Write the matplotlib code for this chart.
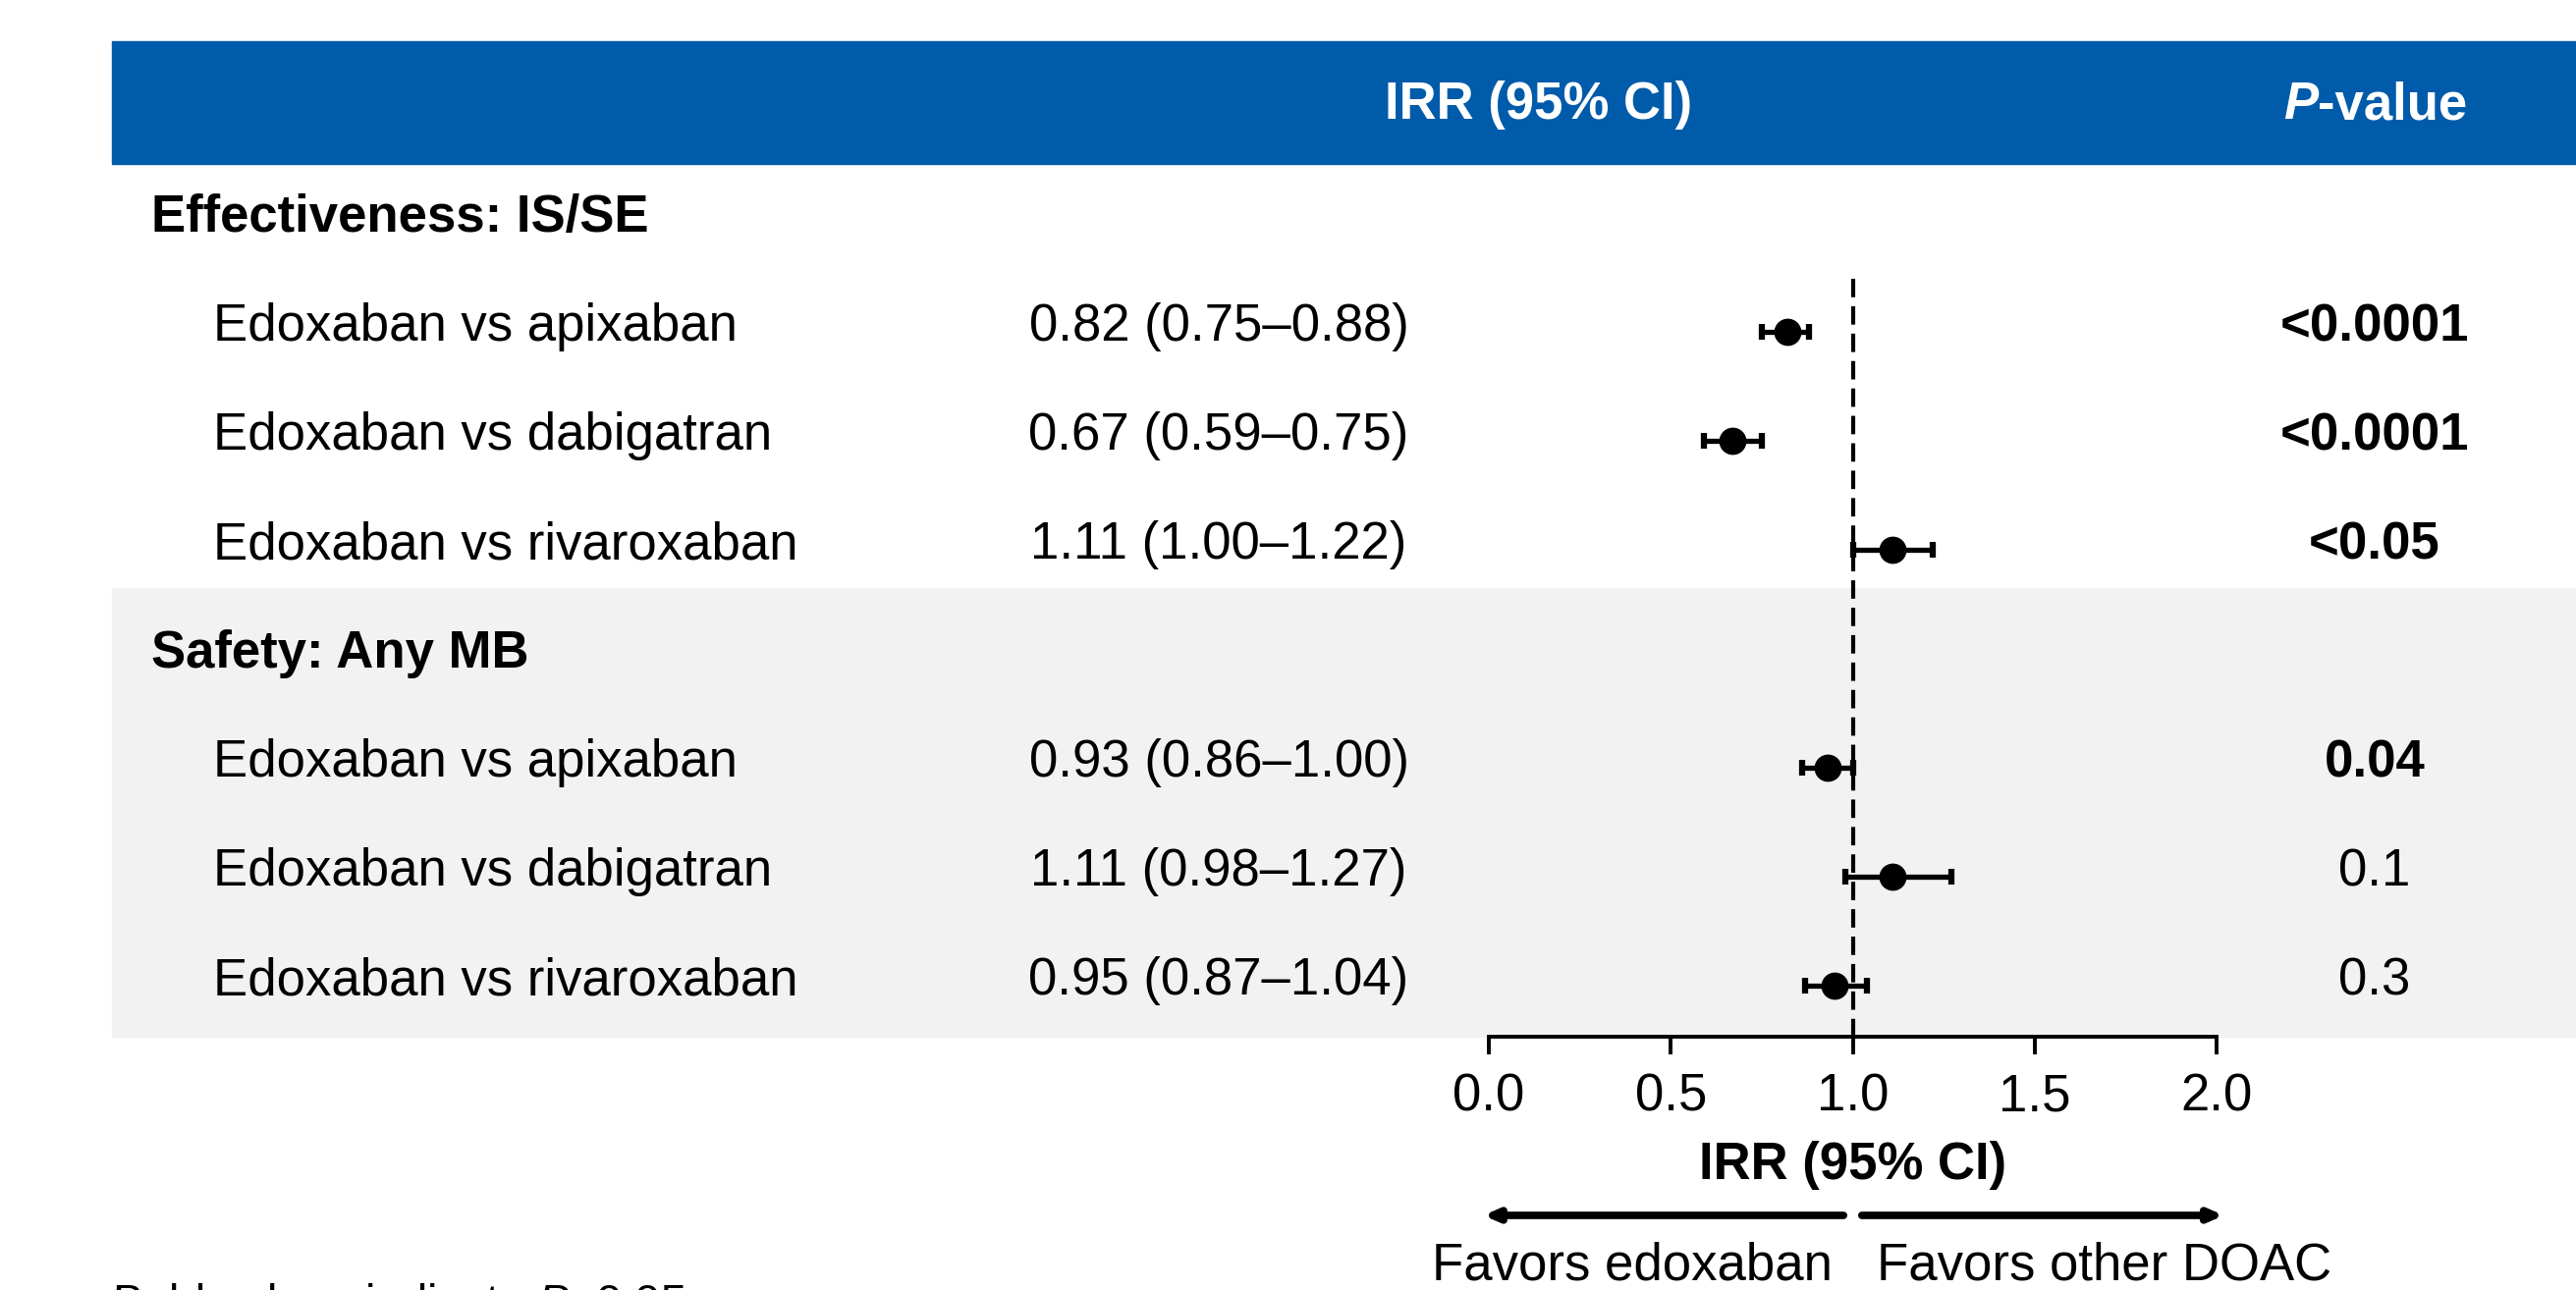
import numpy as np
import matplotlib
matplotlib.use("Agg")
import matplotlib.pyplot as plt
from matplotlib.patches import Rectangle
from matplotlib.transforms import blended_transform_factory
from matplotlib.ticker import FormatStrFormatter

plt.rcParams['font.family'] = ['Liberation Sans', 'DejaVu Sans']
plt.rcParams['mathtext.fontset'] = 'custom'
plt.rcParams['mathtext.rm'] = 'Liberation Sans'
plt.rcParams['mathtext.it'] = 'Liberation Sans:italic'

# data
section_titles = ["Effectiveness: IS/SE", "Safety: Any MB"]
comparisons = ["Edoxaban vs apixaban", "Edoxaban vs dabigatran", "Edoxaban vs rivaroxaban"]
irr = np.array([0.82, 0.67, 1.11, 0.93, 1.11, 0.95])
ci_low = np.array([0.75, 0.59, 1.00, 0.86, 0.98, 0.87])
ci_high = np.array([0.88, 0.75, 1.22, 1.00, 1.27, 1.04])
p_text = ["<0.0001", "<0.0001", "<0.05", "0.04", "0.1", "0.3"]
p_bold = [True, True, True, True, False, False]
xticks = [0.0, 0.5, 1.0, 1.5, 2.0]

W, H = 2623, 1314
FS = 38
BLUE = "#005BAA"
GREY = "#F2F2F2"

fig = plt.figure(figsize=(W / 100, H / 100), dpi=100)

# background axes in pixel units (layout only)
bg = fig.add_axes([0, 0, 1, 1])
bg.set_xlim(0, W)
bg.set_ylim(H, 0)
bg.axis('off')

# forest axes: x in IRR, y in row index
top_px, bot_px = 167, 1056
x0_px, x2_px = 1516, 2257
row0_px, row_h = 227, 111
ax = fig.add_axes([x0_px / W, 1 - bot_px / H, (x2_px - x0_px) / W, (bot_px - top_px) / H])
ax.patch.set_alpha(0)
ax.set_ylim((bot_px - row0_px) / row_h, (top_px - row0_px) / row_h)
ax.set_xlim(0, 2)

# header band and grey safety band
bg.add_patch(Rectangle((114, 42), W - 114, 125, color=BLUE, zorder=0))
bg.add_patch(Rectangle((114, 599), W - 114, bot_px - 599, color=GREY, zorder=0))
bg.text(1567, 107, "IRR (95% CI)", color="white", fontsize=FS, fontweight="bold",
        ha="center", va="center")
bg.text(2360, 107, "P", color="white", fontsize=FS, fontweight="bold", style="italic",
        ha="right", va="center")
bg.text(2360, 107, "-value", color="white", fontsize=FS, fontweight="bold",
        ha="left", va="center")

# row positions
section_pos = [0, 4]
row_pos = np.array([1, 2, 3, 5, 6, 7])
txt_off = -0.045  # text sits a touch above the markers

tr = blended_transform_factory(bg.transData, ax.transData)
for title, y in zip(section_titles, section_pos):
    bg.text(154, y + txt_off, title, transform=tr, fontsize=FS, fontweight="bold", va="center")

for i, y in enumerate(row_pos):
    yt = y + txt_off
    bg.text(217, yt, comparisons[i % 3], transform=tr, fontsize=FS, va="center")
    bg.text(1241, yt, f"{irr[i]:.2f} ({ci_low[i]:.2f}\u2013{ci_high[i]:.2f})",
            transform=tr, fontsize=FS, va="center", ha="center")
    bg.text(2418, yt, p_text[i], transform=tr, fontsize=FS, va="center", ha="center",
            fontweight="bold" if p_bold[i] else "normal")

# reference line and estimates
ax.vlines(1.0, 0.51, ax.get_ylim()[0], colors="black", linestyles=(0, (4.5, 2.2)), lw=3)
ax.errorbar(irr, row_pos, xerr=[irr - ci_low, ci_high - irr], fmt="o", color="black",
            ms=19, elinewidth=3.8, capsize=6, capthick=4.5, zorder=3)

# x axis
for s in ["top", "left", "right"]:
    ax.spines[s].set_visible(False)
ax.spines["bottom"].set_bounds(0, 2)
ax.spines["bottom"].set_linewidth(2.8)
ax.set_yticks([])
ax.set_xticks(xticks)
ax.xaxis.set_major_formatter(FormatStrFormatter('%.1f'))
ax.tick_params(axis="x", length=13, width=2.8, labelsize=FS, pad=13)

tr2 = blended_transform_factory(ax.transData, bg.transData)
ax.text(1.0, 1187, "IRR (95% CI)", transform=tr2, fontsize=FS, fontweight="bold",
        ha="center", va="center")
arrow = dict(arrowstyle="-|>,head_length=0.8,head_width=0.35", lw=5.5, color="black",
             shrinkA=0, shrinkB=0)
ax.annotate("", xy=(-0.015, 1238), xytext=(0.975, 1238), xycoords=tr2, textcoords=tr2,
            arrowprops=arrow, annotation_clip=False)
ax.annotate("", xy=(2.02, 1238), xytext=(1.025, 1238), xycoords=tr2, textcoords=tr2,
            arrowprops=arrow, annotation_clip=False)
ax.text(0.944, 1290, "Favors edoxaban", transform=tr2, fontsize=FS, ha="right", va="center")
ax.text(1.065, 1290, "Favors other DOAC", transform=tr2, fontsize=FS, ha="left", va="center")

# footnote, mostly below the canvas edge as in the source
bg.text(114, 1307, "Bold values indicate $P$<0.05", fontsize=34, va="top", ha="left")

fig.savefig("out.png", dpi=100)
